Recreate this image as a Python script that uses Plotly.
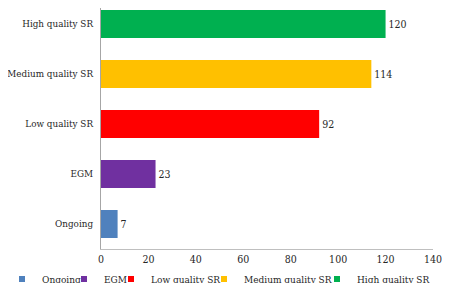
import plotly.graph_objects as go

categories = ["Ongoing", "EGM", "Low quality SR", "Medium quality SR", "High quality SR"]
values = [7, 23, 92, 114, 120]
colors = ["#4F81BD", "#7030A0", "#FF0000", "#FFC000", "#00B050"]
x_ticks = [0, 20, 40, 60, 80, 100, 120, 140]

FONT = "DejaVu Serif Condensed, DejaVu Serif"
OFF = 8  # browser body margin
W, H = 450 - 2 * OFF, 291 - 2 * OFF
ML, MR, MT = 101 - OFF, 9, 0
MB = H - (249 - OFF)
pw = W - ML - MR
ph = H - MT - MB
span = ph / 50.0
LEGEND_Y_PAGE = 279

# text start pixel positions (page) for the legend entries
legend_text_px = [42, 104, 151, 244, 357]

fig = go.Figure()
legend_names = ["legend", "legend2", "legend3", "legend4", "legend5"]
for i, (c, v, col) in enumerate(zip(categories, values, colors)):
    fig.add_trace(go.Bar(
        y=[c], x=[v], orientation="h", marker=dict(color=col, line=dict(width=0)),
        text=[str(v)], textposition="outside", cliponaxis=False,
        textfont=dict(family=FONT, size=10.5, color="#262626"),
        showlegend=False, name=c,
    ))
    fig.add_trace(go.Scatter(
        x=[None], y=[None], mode="markers", name=c,
        marker=dict(symbol="square", size=6, color=col),
        showlegend=True, legend=legend_names[i],
    ))

layout_legends = {}
for i, ln in enumerate(legend_names):
    px = legend_text_px[i] - OFF - 40
    layout_legends[ln] = dict(
        x=(px - ML) / pw, xanchor="left",
        y=(ph - (LEGEND_Y_PAGE - OFF - MT)) / ph, yanchor="middle",
        orientation="h", bgcolor="rgba(0,0,0,0)",
        font=dict(family=FONT, size=10, color="#262626"),
        itemwidth=30,
    )

fig.update_layout(
    width=W, height=H,
    margin=dict(l=ML, r=MR, t=MT, b=MB, autoexpand=False),
    paper_bgcolor="white", plot_bgcolor="white",
    barmode="overlay", bargap=0.44,
    font=dict(family=FONT, size=10.5, color="#262626"),
    xaxis=dict(range=[0, 140], tickvals=x_ticks, ticktext=[str(t) for t in x_ticks],
               showgrid=False, zeroline=False, showline=True, linecolor="#BFBFBF",
               linewidth=1, ticks="", tickfont=dict(family=FONT, size=10.5, color="#262626"),
               ticklabeloverflow="allow",
               fixedrange=True, automargin=False),
    yaxis=dict(categoryorder="array", categoryarray=categories, showgrid=False,
               range=[-0.5, -0.5 + span],
               showline=True, linecolor="#A6A6A6", linewidth=1, ticks="",
               ticklabelstandoff=5, automargin=False,
               tickfont=dict(family=FONT, size=9.8, color="#262626")),
    **layout_legends,
)

fig.write_html("out.html")
